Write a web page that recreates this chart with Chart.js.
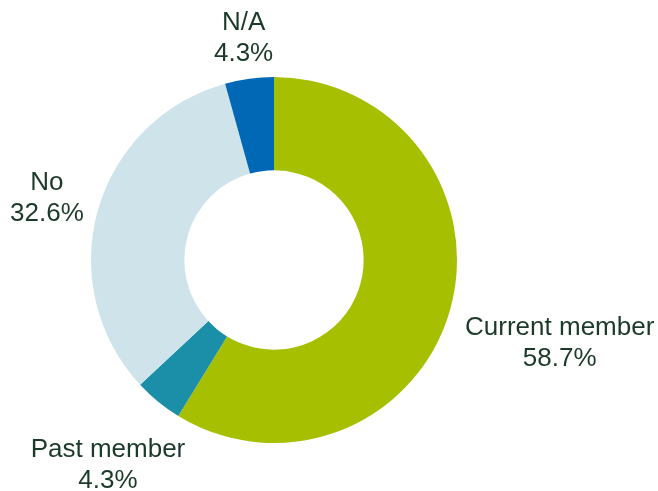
<!DOCTYPE html>
<html>
<head>
<meta charset="utf-8">
<script src="https://cdn.jsdelivr.net/npm/chart.js@4/dist/chart.umd.min.js"></script>
<style>
  html, body { margin: 0; padding: 0; background: #fff; }
  #wrap { width: 658px; height: 491px; }
</style>
</head>
<body>
<div id="wrap"><canvas id="membership"></canvas></div>
<script>
var categories = ["Current member", "Past member", "No", "N/A"];
var shares = [58.7, 4.3, 32.6, 4.3];
var shareLabels = ["58.7%", "4.3%", "32.6%", "4.3%"];
var sliceColors = ["#a6bf00", "#1b8fa8", "#cfe4ea", "#0068b4"];

// draws "name / percent" outside each slice, placed along the slice's mid angle
var outsideLabels = {
    id: 'outsideLabels',
    afterDatasetsDraw: function (chart, args, opts) {
        var ctx = chart.ctx;
        var arcs = chart.getDatasetMeta(0).data;
        ctx.save();
        ctx.font = opts.font;
        ctx.fillStyle = opts.color;
        ctx.textAlign = 'center';
        ctx.textBaseline = 'middle';
        arcs.forEach(function (arc, i) {
            var lines = [categories[i], shareLabels[i]];
            var hw = Math.max(ctx.measureText(lines[0]).width, ctx.measureText(lines[1]).width) / 2;
            var mid = (arc.startAngle + arc.endAngle) / 2;
            var r = arc.outerRadius + opts.gap;
            var cx = arc.x + Math.cos(mid) * (r + hw);
            var cy = arc.y + Math.sin(mid) * (r + opts.lineHeight);
            var nudge = opts.nudge[i] || [0, 0];
            cx += nudge[0];
            cy += nudge[1];
            ctx.fillText(lines[0], cx, cy - opts.lineHeight / 2);
            ctx.fillText(lines[1], cx, cy + opts.lineHeight / 2);
        });
        ctx.restore();
    }
};

var ctx = document.getElementById('membership').getContext('2d');
var chart = new Chart(ctx, {
    type: 'doughnut',
    data: {
        labels: categories,
        datasets: [{
            data: shares,
            backgroundColor: sliceColors,
            borderWidth: 0
        }]
    },
    options: {
        responsive: true,
        maintainAspectRatio: false,
        animation: false,
        cutout: '49%',
        layout: {
            padding: { left: 91, top: 77, right: 201, bottom: 48 }
        },
        plugins: {
            legend: { display: false },
            tooltip: { enabled: false },
            outsideLabels: {
                font: '26px "Liberation Sans", Arial, sans-serif',
                color: '#1c3a2a',
                gap: 13,
                lineHeight: 31,
                nudge: [[6, 22], [7, 30], [-3, 0], [0, 3]]
            }
        }
    },
    plugins: [outsideLabels]
});
</script>
</body>
</html>
